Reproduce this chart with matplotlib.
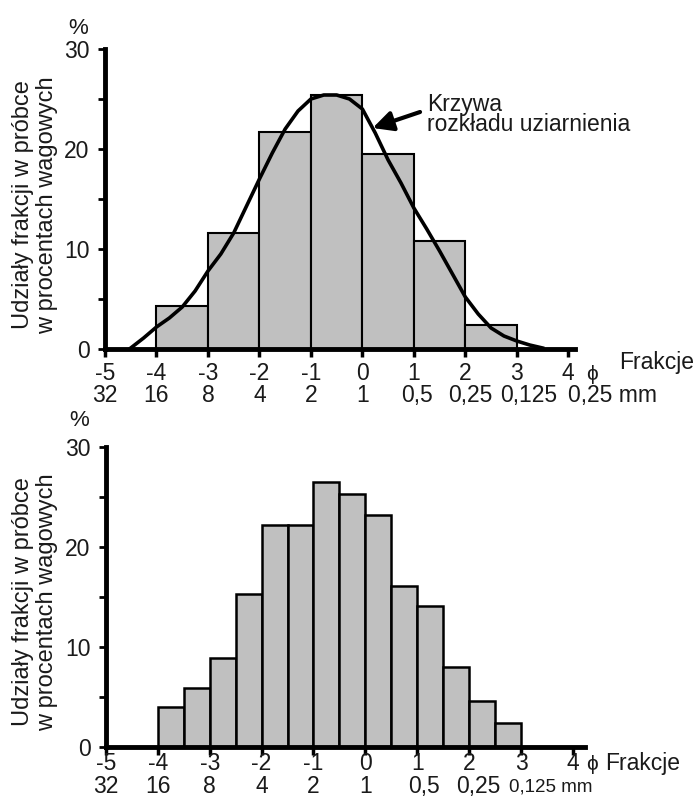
import matplotlib
matplotlib.use("Agg")
import matplotlib.pyplot as plt

plt.rcParams['font.family'] = ['Liberation Sans', 'DejaVu Sans']

# Dane - histogram górny (klasy co 1 phi)
phi_top = [-4, -3, -2, -1, 0, 1, 2]
pct_top = [4.3, 11.6, 21.7, 25.4, 19.5, 10.8, 2.4]

# Krzywa rozkładu uziarnienia
curve_x = [-4.5, -4.25, -4.0, -3.75, -3.5, -3.25, -3.0, -2.75, -2.5, -2.25, -2.0,
           -1.75, -1.5, -1.25, -1.0, -0.75, -0.5, -0.25, 0.0, 0.25, 0.5, 0.75,
           1.0, 1.25, 1.5, 1.75, 2.0, 2.25, 2.5, 2.75, 3.0, 3.25, 3.5]
curve_y = [0.1, 1.1, 2.2, 3.1, 4.2, 5.8, 7.8, 9.5, 11.6, 14.3, 17.0,
           19.6, 22.0, 23.8, 25.0, 25.4, 25.4, 25.0, 24.0, 21.6, 18.9, 16.6,
           14.1, 12.0, 9.8, 7.5, 5.2, 3.5, 2.1, 1.3, 0.8, 0.4, 0.1]

# Dane - histogram dolny (klasy co 0,5 phi)
phi_bot = [-4, -3.5, -3, -2.5, -2, -1.5, -1, -0.5, 0, 0.5, 1, 1.5, 2, 2.5]
pct_bot = [4.0, 5.9, 8.9, 15.3, 22.2, 22.2, 26.5, 25.3, 23.2, 16.1, 14.1, 8.0, 4.6, 2.4]

phi_ticks = [-5, -4, -3, -2, -1, 0, 1, 2, 3, 4]
phi_labels = ['-5', '-4', '-3', '-2', '-1', '0', '1', '2', '3', '4']
mm_top = ['32', '16', '8', '4', '2', '1', '0,5', '0,25', '0,125', '0,25 mm']
mm_bot = ['32', '16', '8', '4', '2', '1', '0,5', '0,25', '0,125 mm']

fs = 16.5
gray = '#c0c0c0'
ink = '#1a1a1a'

fig = plt.figure(figsize=(7, 8), dpi=100)
ax1 = fig.add_axes([0.15, 0.56375, 0.6714, 0.375])
ax2 = fig.add_axes([0.1514, 0.06625, 0.684, 0.375])


def style_axes(ax, xmax):
    ax.set_xlim(-5, xmax)
    ax.set_ylim(0, 30)
    for s in ['top', 'right']:
        ax.spines[s].set_visible(False)
    for s in ['left', 'bottom']:
        ax.spines[s].set_linewidth(3.5)
        ax.spines[s].set_zorder(5)
    ax.spines['left'].set_bounds(0, 30)
    ax.set_yticks([0, 10, 20, 30])
    ax.set_yticks([5, 15, 25], minor=True)
    ax.tick_params(axis='y', which='both', length=5, width=2, pad=6,
                   labelsize=fs, labelcolor=ink)
    ax.set_xticks(phi_ticks)
    ax.set_xticklabels([])
    ax.tick_params(axis='x', length=6, width=2.5)
    ax.patch.set_visible(False)


style_axes(ax1, 4.13)
style_axes(ax2, 4.23)

# --- górny wykres ---
ax1.bar(phi_top, pct_top, width=1.0, align='edge', color=gray,
        edgecolor='black', linewidth=1.5, zorder=2)
ax1.plot(curve_x, curve_y, color='black', lw=2.6, zorder=4, clip_on=False)

ax1.annotate('', xy=(0.2, 22.1), xytext=(1.12, 23.7),
             arrowprops=dict(arrowstyle='-|>', lw=3, color='black',
                             mutation_scale=30, shrinkA=0, shrinkB=0), zorder=6)
ax1.text(1.25, 25.6, 'Krzywa\nrozkładu uziarnienia', fontsize=fs, color=ink,
         ha='left', va='top', linespacing=0.85)

for x, lab in zip(phi_ticks, phi_labels):
    ax1.text(x, -2.45, lab, fontsize=fs, color=ink, ha='center', va='center',
             clip_on=False)
offs_top = [0, 0, 0, 0, 0, 0, 0.06, 0.1, 0.23]
for x, lab, o in zip(phi_ticks[:9], mm_top[:9], offs_top):
    ax1.text(x + o, -4.65, lab, fontsize=fs, color=ink, ha='center', va='center',
             clip_on=False)
ax1.text(3.99, -4.65, mm_top[9], fontsize=fs, color=ink, ha='left', va='center',
         clip_on=False)
ax1.text(4.46, -2.55, 'ϕ', fontsize=15, color=ink, ha='center', va='center',
         clip_on=False)
ax1.text(4.98, -1.4, 'Frakcje', fontsize=fs, color=ink, ha='left', va='center',
         clip_on=False)
ax1.text(-5.52, 32.0, '%', fontsize=16, color=ink, ha='center', va='center',
         clip_on=False)

# --- dolny wykres ---
ax2.bar(phi_bot, pct_bot, width=0.5, align='edge', color=gray,
        edgecolor='black', linewidth=1.8, zorder=2)

for x, lab in zip(phi_ticks, phi_labels):
    ax2.text(x, -1.65, lab, fontsize=fs, color=ink, ha='center', va='center',
             clip_on=False)
offs_bot = [0, 0, 0, 0, 0, 0, 0.13, 0.18]
for x, lab, o in zip(phi_ticks[:8], mm_bot[:8], offs_bot):
    ax2.text(x + o, -3.95, lab, fontsize=fs, color=ink, ha='center', va='center',
             clip_on=False)
ax2.text(2.76, -4.0, mm_bot[8], fontsize=13.5, color=ink, ha='left',
         va='center', clip_on=False)
ax2.text(4.36, -1.75, 'ϕ', fontsize=15, color=ink, ha='center', va='center',
         clip_on=False)
ax2.text(4.63, -1.65, 'Frakcje', fontsize=fs, color=ink, ha='left', va='center',
         clip_on=False)
ax2.text(-5.52, 32.7, '%', fontsize=16, color=ink, ha='center', va='center',
         clip_on=False)

ylab = 'Udziały frakcji w próbce\nw procentach wagowych'
fig.text(0.05, 1 - 205 / 800, ylab, rotation=90, fontsize=17, color=ink,
         ha='center', va='center', linespacing=1.15)
fig.text(0.05, 1 - 602 / 800, ylab, rotation=90, fontsize=17, color=ink,
         ha='center', va='center', linespacing=1.15)

fig.savefig('out.png', dpi=100)
